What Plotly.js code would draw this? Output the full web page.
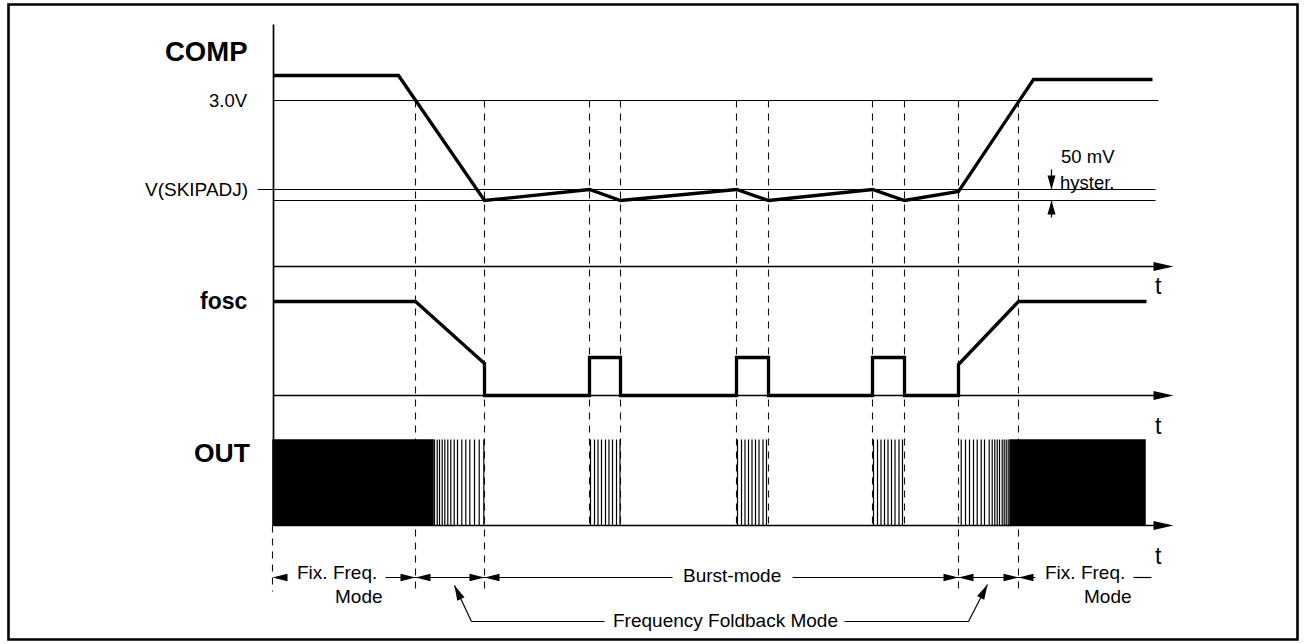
<!DOCTYPE html>
<html><head><meta charset="utf-8">
<script src="https://cdn.plot.ly/plotly-3.0.1.min.js"></script>
<style>html,body{margin:0;padding:0;background:#fff;} #chart{width:1305px;height:644px;}</style>
</head><body><div id="chart"></div>
<script>
// ---------------- data (diagram time units / diagram level units) ----------------
const modeBoundaries = [415, 484, 958, 1018];          // fix-freq | foldback | burst | foldback | fix-freq
const burstEdges = [589, 620, 736, 768, 872, 904];     // burst on/off instants
const compT = [273, 398, 484, 589, 620, 736, 768, 872, 904, 958, 1033, 1152];
const compV = [76, 76, 201, 190, 201, 190, 201, 190, 201, 192, 80, 80];
const foscT = [273, 415, 484, 484, 589, 589, 620, 620, 736, 736, 768, 768, 872, 872, 904, 904, 958, 958, 1018, 1146];
const foscV = [302, 302, 364, 396, 396, 358, 358, 396, 396, 358, 358, 396, 396, 358, 358, 396, 396, 365, 302, 302];
const thresholdLevels = [101, 190, 201];               // 3.0V, V(SKIPADJ), V(SKIPADJ)-50mV
const thresholdLabels = ['3.0V', 'V(SKIPADJ)'];
const axisLevels = [267, 396, 526];                    // COMP, fosc, OUT time axes
const outLevels = [440, 526];                          // OUT high / low
const outSolidStart = [272, 1009];
const outSolidEnd = [433, 1145];
const outPulsesFoldIn = [434, 436.7, 439, 441.7, 444.3, 447.3, 450.3, 453.7, 457, 461.3, 465.3, 469.3, 474, 478.7, 483.3];
const outPulsesBurst = [590, 594, 597.5, 601, 605, 608.5, 612, 616, 619.5,
                        737, 741, 744.5, 748, 751.5, 755, 758.5, 762.5, 766,
                        873, 877, 880.5, 884, 887.5, 891, 894.5, 898.5, 902];
const outPulsesFoldOut = [960.7, 965, 969, 973, 976.7, 980.7, 984, 988.7, 991.7, 994.3, 996.7, 999, 1001.7, 1003.7, 1005.7, 1007.7];
const signalNames = ['COMP', 'fosc', 'OUT'];

// ---------------- helpers ----------------
function segs(list) { // list of [x0,y0,x1,y1]
  const x = [], y = [];
  list.forEach(s => { x.push(s[0], s[2], null); y.push(s[1], s[3], null); });
  return {x, y};
}
function tri(tipX, tipY, dx, dy, len, half) {
  const n = Math.hypot(dx, dy); const ux = dx / n, uy = dy / n;
  const bx = tipX - ux * len, by = tipY - uy * len;
  const px = -uy * half, py = ux * half;
  return {type: 'path', xref: 'x', yref: 'y', layer: 'above',
    path: `M${tipX},${tipY} L${bx + px},${by + py} L${bx - px},${by - py} Z`,
    fillcolor: 'black', line: {width: 0}};
}

const traces = [];
// threshold reference lines
const thrStart = [273, 257, 273], thrEnd = [1158, 1155, 1155];
const thr = segs(thresholdLevels.map((v, i) => [thrStart[i], v, thrEnd[i], v]));
traces.push({x: thr.x, y: thr.y, mode: 'lines', line: {color: 'black', width: 1.1}, hoverinfo: 'skip'});
// time axes
const ax = segs(axisLevels.map(v => [273, v, 1155, v]).concat([[273, 25, 273, outLevels[1]]]));
traces.push({x: ax.x, y: ax.y, mode: 'lines', line: {color: 'black', width: 1.7}, hoverinfo: 'skip'});
// dashed time markers
const dsh = segs(modeBoundaries.map(t => [t, thresholdLevels[0], t, 592])
  .concat(burstEdges.map(t => [t, thresholdLevels[0], t, outLevels[1]]))
  .concat([[272, outLevels[1], 272, 592]]));
traces.push({x: dsh.x, y: dsh.y, mode: 'lines', line: {color: '#111', width: 1.1, dash: '7px,6px'}, hoverinfo: 'skip'});
// OUT solid (fixed frequency) blocks
outSolidStart.forEach((s, i) => {
  traces.push({x: [s, outSolidEnd[i], outSolidEnd[i], s, s], y: [outLevels[0], outLevels[0], outLevels[1], outLevels[1], outLevels[0]],
    mode: 'lines', fill: 'toself', fillcolor: 'black', line: {color: 'black', width: 0.5}, hoverinfo: 'skip'});
});
// OUT individual pulses
const pul = segs(outPulsesFoldIn.concat(outPulsesBurst, outPulsesFoldOut).map(t => [t, outLevels[0], t, outLevels[1]]));
traces.push({x: pul.x, y: pul.y, mode: 'lines', line: {color: 'black', width: 1.2}, hoverinfo: 'skip'});
// waveforms
traces.push({x: compT, y: compV, mode: 'lines', line: {color: 'black', width: 3.3}, hoverinfo: 'skip'});
traces.push({x: foscT, y: foscV, mode: 'lines', line: {color: 'black', width: 3.3}, hoverinfo: 'skip'});
// bottom mode row lines
const bot = segs([[385, 578, 672, 578], [792, 578, 1035, 578], [1133, 578, 1151, 578],
  [454, 586, 471, 622], [471, 622, 604, 622], [844, 622, 968, 622], [968, 622, 987, 585],
  [1051, 170, 1051, 190], [1051, 201, 1051, 218]]);
traces.push({x: bot.x, y: bot.y, mode: 'lines', line: {color: 'black', width: 1.2}, hoverinfo: 'skip'});

// ---------------- shapes ----------------
const shapes = [];
axisLevels.forEach(v => shapes.push(tri(1173, v, 1, 0, 20, 4.5)));
shapes.push(tri(272, 578, -1, 0, 15, 3.8));
modeBoundaries.forEach(t => { shapes.push(tri(t, 578, 1, 0, 15, 3.8)); shapes.push(tri(t, 578, -1, 0, 15, 3.8)); });
shapes.push(tri(454, 586, -17, -36, 15, 4));
shapes.push(tri(987, 585, 19, -37, 15, 4));
shapes.push(tri(1051, thresholdLevels[1], 0, 1, 14, 4));
shapes.push(tri(1051, thresholdLevels[2], 0, -1, 14, 4));
shapes.push({type: 'rect', xref: 'x', yref: 'y', x0: 8, x1: 1297, y0: 5, y1: 640, line: {color: 'black', width: 2.6}, fillcolor: 'rgba(0,0,0,0)'});

// ---------------- annotations ----------------
const F = 'Liberation Sans, Arial, sans-serif';
function txt(text, x, y, size, opts) {
  return Object.assign({text, x, y, xref: 'x', yref: 'y', showarrow: false, xanchor: 'center', yanchor: 'middle',
    font: {family: F, size, color: 'black'}}, opts || {});
}
const ann = [
  txt('<b>' + signalNames[0] + '</b>', 249, 52, 27.5, {xanchor: 'right'}),
  txt('<b>' + signalNames[1] + '</b>', 249, 301, 23, {xanchor: 'right'}),
  txt('<b>' + signalNames[2] + '</b>', 251, 453, 26.5, {xanchor: 'right'}),
  txt(thresholdLabels[0], 249, thresholdLevels[0], 18.5, {xanchor: 'right'}),
  txt(thresholdLabels[1], 249, thresholdLevels[1], 19, {xanchor: 'right'}),
  txt('t', 1158, 286, 23), txt('t', 1158, 426, 23), txt('t', 1158, 556, 23),
  txt('50 mV', 1087, 157, 18.5), txt('hyster.', 1087, 183, 18.5),
  txt('Fix. Freq.', 336, 573, 19), txt('Mode', 358, 597, 19),
  txt('Fix. Freq.', 1084, 573, 19), txt('Mode', 1107, 597, 19),
  txt('Burst-mode', 731, 576, 19),
  txt('Frequency Foldback Mode', 725, 621, 19)
];

Plotly.newPlot('chart', traces, {
  width: 1305, height: 644, margin: {l: 0, r: 0, t: 0, b: 0, pad: 0},
  paper_bgcolor: 'white', plot_bgcolor: 'white', showlegend: false,
  xaxis: {range: [-0.5, 1304.5], visible: false, fixedrange: true},
  yaxis: {range: [644.5, 0.5], visible: false, fixedrange: true},
  shapes, annotations: ann
}, {staticPlot: true});
</script></body></html>
